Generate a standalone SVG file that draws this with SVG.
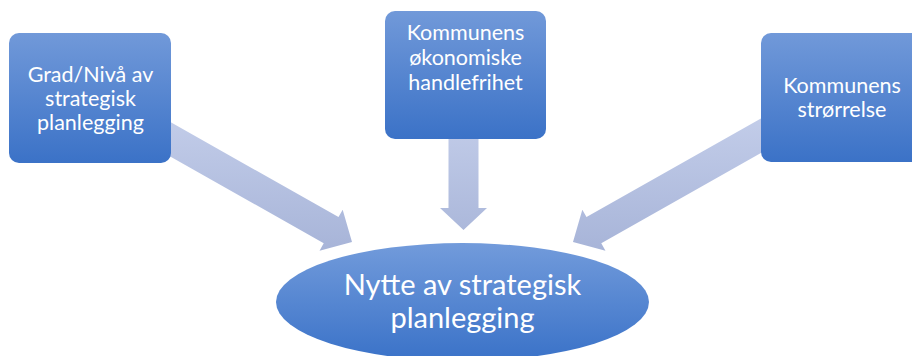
<svg xmlns="http://www.w3.org/2000/svg" width="912" height="356" viewBox="0 0 912 356">
  <defs>
    <linearGradient id="boxGrad" x1="0" y1="0" x2="0" y2="1">
      <stop offset="0" stop-color="#7199d9"/>
      <stop offset="1" stop-color="#3b72c7"/>
    </linearGradient>
    <linearGradient id="ellGrad" x1="0" y1="0" x2="0" y2="1">
      <stop offset="0" stop-color="#729bdb"/>
      <stop offset="1" stop-color="#3a72c8"/>
    </linearGradient>
    <linearGradient id="arrGrad" gradientUnits="userSpaceOnUse" x1="0" y1="110" x2="0" y2="252">
      <stop offset="0" stop-color="#c4ceea"/>
      <stop offset="1" stop-color="#a7b4d8"/>
    </linearGradient>
  </defs>
  <style>
    .box { fill: url(#boxGrad); }
    .ell { fill: url(#ellGrad); }
    .arrow { fill: url(#arrGrad); }
    .t { font-family: Lato, "Liberation Sans", sans-serif; fill: #ffffff; text-anchor: middle; }
    .bt { font-size: 21.5px; }
    .et { font-size: 29px; }
  </style>

  <g id="connectors">
    <polygon class="arrow" points="352,242 342.68,209.73 338.5,217.12 150.49,110.76 135.71,136.88 323.72,243.24 319.54,250.63"/>
    <polygon class="arrow" points="448.5,110 478.5,110 478.5,208 487,208 463.5,230 440,208 448.5,208"/>
    <polygon class="arrow" points="573,242 582.32,209.73 586.5,217.12 774.51,110.76 789.29,136.88 601.28,243.24 605.46,250.63"/>
  </g>

  <g id="node-grad">
    <rect class="box" x="9" y="33" width="162" height="130" rx="10"/>
    <text class="t bt" x="90.5" y="82">Grad/Nivå av</text>
    <text class="t bt" x="90.5" y="106">strategisk</text>
    <text class="t bt" x="90.5" y="130">planlegging</text>
  </g>

  <g id="node-okonomi">
    <rect class="box" x="385" y="11" width="161" height="128" rx="10"/>
    <text class="t bt" x="465.5" y="39.5">Kommunens</text>
    <text class="t bt" x="465.5" y="64.5">økonomiske</text>
    <text class="t bt" x="465.5" y="90">handlefrihet</text>
  </g>

  <g id="node-storrelse">
    <rect class="box" x="761" y="33" width="162" height="129" rx="10"/>
    <text class="t bt" x="842" y="93">Kommunens</text>
    <text class="t bt" x="842" y="117">strørrelse</text>
  </g>

  <g id="node-nytte">
    <ellipse class="ell" cx="462.5" cy="302" rx="186.5" ry="59"/>
    <text class="t et" x="462.5" y="295">Nytte av strategisk</text>
    <text class="t et" x="462.5" y="328">planlegging</text>
  </g>
</svg>
